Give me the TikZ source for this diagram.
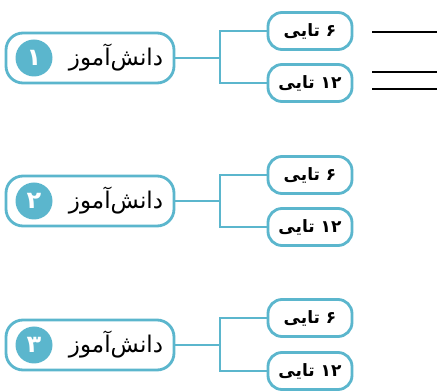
\documentclass[tikz,border=0pt]{standalone}
\usepackage{fontspec}
\newfontfamily\arabicfont[Script=Arabic]{DejaVu Sans}
\TeXXeTstate=1
\definecolor{turquoise}{HTML}{5BB6CD}
\begin{document}
\begin{tikzpicture}[x=1pt,y=1pt]
\tikzstyle{eleve} = [draw=turquoise,line width=2.8pt,rounded corners=17pt,minimum width=168pt,minimum height=50pt,inner sep=0pt] %boite eleve
\tikzstyle{paquet} = [draw=turquoise,line width=2.8pt,rounded corners=14pt,minimum width=84pt,minimum height=37pt,inner sep=0pt,font=\arabicfont\bfseries\fontsize{17}{19}\selectfont] %boite 6 ou 12
\tikzstyle{numero} = [circle,fill=turquoise,text=white,minimum size=37pt,inner sep=0pt,font=\arabicfont\bfseries\fontsize{24}{26}\selectfont]
\tikzstyle{nom} = [font=\arabicfont\fontsize{23}{25}\selectfont,inner sep=0pt]
\tikzstyle{lien} = [draw=turquoise,line width=2.6pt]
\tikzstyle{ligne} = [line width=2.2pt]
\useasboundingbox (0,0) rectangle (437,391);
%eleve 1
\node[eleve] (s1) at (90,333) {};
\node[numero] (n1) at (34,333) {\beginR ۱\endR};
\node[nom] (t1) at (116,333) {\beginR دانش‌آموز\endR};
\node[paquet] (a1) at (310,360) {\beginR ۶ تایی\endR};
\node[paquet] (b1) at (310,308) {\beginR \beginL ۱۲\endL{} تایی\endR};
\coordinate (j1) at (220,333);
\draw[lien] (s1.east) -- (j1);
\draw[lien] (a1.west) -| (j1) |- (b1.west);
%lignes
\draw[ligne] (372,359) -- (437,359);
\draw[ligne] (372,319) -- (437,319);
\draw[ligne] (372,302) -- (437,302);
%eleve 2
\node[eleve] (s2) at (90,190) {};
\node[numero] (n2) at (34,190) {\beginR ۲\endR};
\node[nom] (t2) at (116,190) {\beginR دانش‌آموز\endR};
\node[paquet] (a2) at (310,216) {\beginR ۶ تایی\endR};
\node[paquet] (b2) at (310,164) {\beginR \beginL ۱۲\endL{} تایی\endR};
\coordinate (j2) at (220,190);
\draw[lien] (s2.east) -- (j2);
\draw[lien] (a2.west) -| (j2) |- (b2.west);
%eleve 3
\node[eleve] (s3) at (90,46) {};
\node[numero] (n3) at (34,46) {\beginR ۳\endR};
\node[nom] (t3) at (116,46) {\beginR دانش‌آموز\endR};
\node[paquet] (a3) at (310,73) {\beginR ۶ تایی\endR};
\node[paquet] (b3) at (310,20) {\beginR \beginL ۱۲\endL{} تایی\endR};
\coordinate (j3) at (220,46);
\draw[lien] (s3.east) -- (j3);
\draw[lien] (a3.west) -| (j3) |- (b3.west);
\end{tikzpicture}
\end{document}
